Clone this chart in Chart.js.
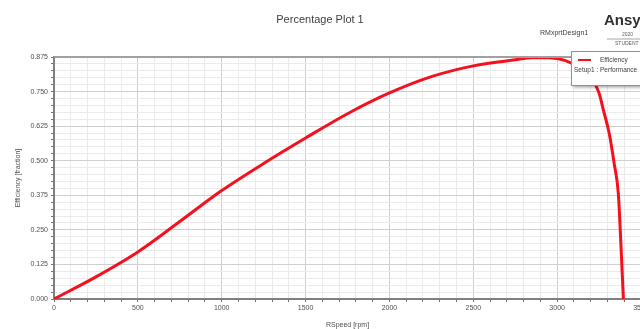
<!DOCTYPE html>
<html><head><meta charset="utf-8">
<script src="https://cdn.jsdelivr.net/npm/chart.js@4"></script>
<style>html,body{margin:0;padding:0;background:#fff;overflow:hidden;width:640px;height:329px}
#wrap{width:660px;height:329px;position:relative}</style>
</head><body><div id="wrap"><canvas id="c" width="660" height="329"></canvas></div>
<script>
const speeds = [0,250,500,750,1000,1250,1500,1750,2000,2250,2500,2750,2850,2950,3050,3150,3200,3250,3275,3310,3340,3365,3380,3395];
const efficiency = [0,0.080,0.170,0.280,0.392,0.49,0.582,0.67,0.745,0.804,0.843,0.865,0.872,0.872,0.862,0.83,0.80,0.745,0.685,0.60,0.49,0.38,0.20,0.0];
const xMajor = [0,500,1000,1500,2000,2500,3000,3500];
const yMajor = [0,0.125,0.25,0.375,0.5,0.625,0.75,0.875];

const FONT = "'Liberation Sans', Arial, sans-serif";
const isMajorX = v => Math.abs(v/500 - Math.round(v/500)) < 1e-6;
const isMajorY = v => Math.abs(v/0.125 - Math.round(v/0.125)) < 1e-6;

const overlay = {
  id:'overlay',
  afterDraw(chart){
    const ctx = chart.ctx, a = chart.chartArea;
    ctx.save();
    ctx.strokeStyle='#a0a0a0'; ctx.lineWidth=2;
    ctx.beginPath(); ctx.moveTo(a.left, a.top); ctx.lineTo(a.right, a.top); ctx.stroke();
    ctx.fillStyle='#404040'; ctx.font='11px '+FONT; ctx.textAlign='center'; ctx.textBaseline='middle';
    ctx.fillText('Percentage Plot 1', 320, 20);
    ctx.font='7px '+FONT; ctx.textAlign='left'; ctx.fillStyle='#404040';
    ctx.fillText('RMxprtDesign1', 540, 33);
    ctx.font='bold 15px '+FONT; ctx.fillStyle='#303030';
    ctx.fillText('Ansys', 604, 21);
    ctx.font='5px '+FONT; ctx.fillStyle='#606060';
    ctx.fillText('2020', 622, 35);
    ctx.strokeStyle='#808080'; ctx.lineWidth=0.7;
    ctx.beginPath(); ctx.moveTo(607,39); ctx.lineTo(640,39); ctx.stroke();
    ctx.fillText('STUDENT', 615, 44);
    // legend box with soft shadow
    ctx.save();
    ctx.shadowColor='rgba(0,0,0,0.35)'; ctx.shadowBlur=3; ctx.shadowOffsetX=1; ctx.shadowOffsetY=2;
    ctx.fillStyle='#ffffff';
    ctx.fillRect(571.5, 51.5, 90, 34);
    ctx.restore();
    ctx.strokeStyle='#909090'; ctx.lineWidth=1;
    ctx.strokeRect(571.5, 51.5, 90, 34);
    const ds = chart.data.datasets[0];
    ctx.strokeStyle=ds.borderColor; ctx.lineWidth=2;
    ctx.beginPath(); ctx.moveTo(578,60); ctx.lineTo(591,60); ctx.stroke();
    ctx.fillStyle='#404040'; ctx.font='6.5px '+FONT; ctx.textBaseline='middle';
    ctx.fillText(ds.label, 600, 60.5);
    ctx.fillText('Setup1 : Performance', 574, 70);
    ctx.restore();
  }
};

new Chart(document.getElementById('c'), {
  type:'line',
  data:{ datasets:[{
    label:'Efficiency',
    data: speeds.map((s,i)=>({x:s, y:efficiency[i]})),
    borderColor:'#f5101e', borderWidth:3, pointRadius:0, fill:false,
    cubicInterpolationMode:'monotone'
  }]},
  options:{
    responsive:false, animation:false,
    layout:{padding:{top:57,right:19,left:0,bottom:0}},
    plugins:{legend:{display:false}, tooltip:{enabled:false}},
    scales:{
      x:{type:'linear', min:0, max:3500,
        afterBuildTicks(s){ const t=[]; for(let v=0; v<=3500; v+=100) t.push({value:v}); s.ticks=t; },
        afterFit(s){ s.height=30; },
        ticks:{autoSkip:false, maxRotation:0, padding:2, color:'#505050', font:{size:7, family:FONT},
          callback:v=> isMajorX(v)? String(v):''},
        grid:{color:c=> isMajorX(c.tick.value)?'#cfcfcf':'#ebebeb', lineWidth:1, tickLength:3,
          tickColor:'#707070', drawTicks:true},
        border:{color:'#808080', width:2},
        title:{display:true, text:'RSpeed [rpm]', color:'#505050', font:{size:7, family:FONT}, padding:{top:1,bottom:0}}
      },
      y:{type:'linear', min:0, max:0.875,
        afterBuildTicks(s){ const t=[]; for(let i=0;i<=35;i++) t.push({value:+(i*0.025).toFixed(3)}); s.ticks=t; },
        afterFit(s){ s.width=54; },
        ticks:{autoSkip:false, padding:3, color:'#505050', font:{size:7, family:FONT},
          callback:v=> isMajorY(v)? v.toFixed(3):''},
        grid:{color:c=> isMajorY(c.tick.value)?'#cfcfcf':'#ebebeb', lineWidth:1, tickLength:3, tickColor:'#707070'},
        border:{color:'#808080', width:2},
        title:{display:true, text:'Efficiency [fraction]', color:'#505050', font:{size:7, family:FONT}, padding:{top:14,bottom:0}}
      }
    }
  },
  plugins:[overlay]
});
</script></body></html>
